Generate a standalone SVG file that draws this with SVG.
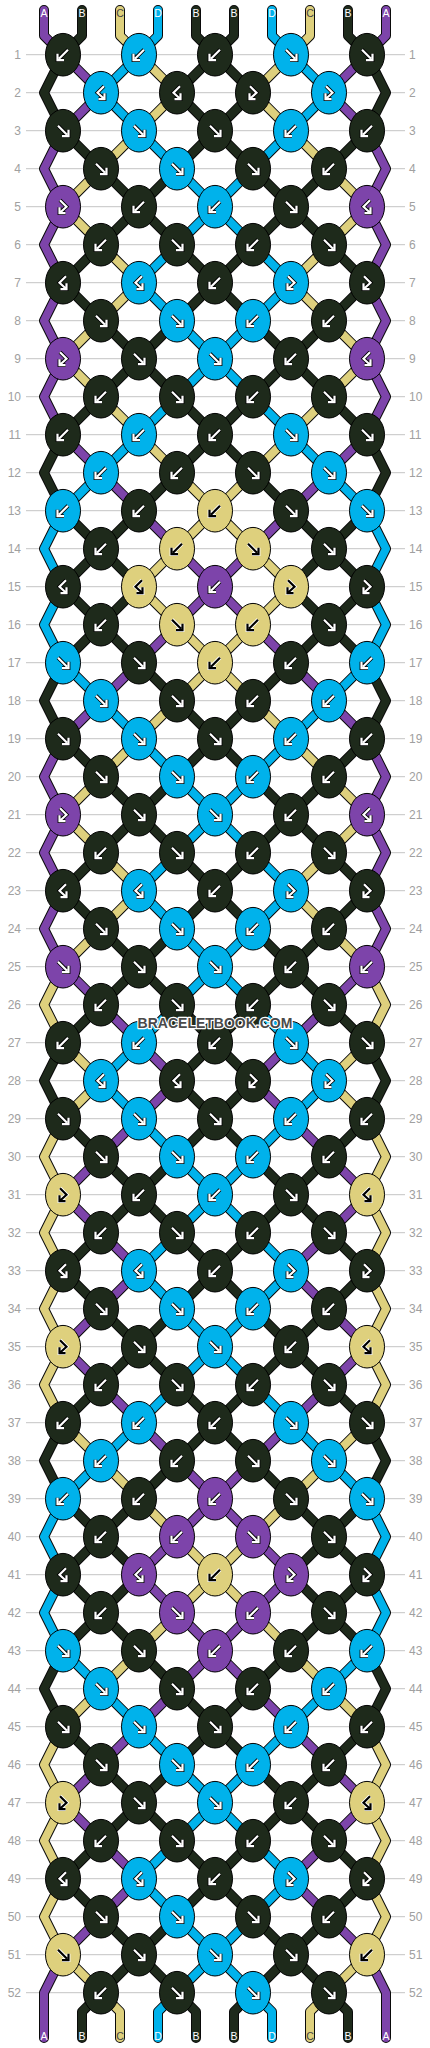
<svg xmlns="http://www.w3.org/2000/svg" xmlns:xlink="http://www.w3.org/1999/xlink" width="430" height="2048" viewBox="0 0 430 2048">
<style>
.grid{stroke:#c4c4c4;stroke-width:1;fill:none}
.num{font-family:"Liberation Sans",Arial,sans-serif;font-size:12px;fill:#a0a0a0}
.numr{text-anchor:start}
.numl{text-anchor:end}
.lab{font-family:"Liberation Sans",Arial,sans-serif;font-size:10.5px;text-anchor:middle;fill:#fff}
.labc{fill:#444}
polyline{fill:none;stroke-linejoin:round;stroke-linecap:round}
.ol use{stroke:#0a0a0a;stroke-width:10}
.cP{stroke:#7d44aa;stroke-width:8}
.cK{stroke:#1e2a1b;stroke-width:8}
.cY{stroke:#ded07d;stroke-width:8}
.cL{stroke:#00b2eb;stroke-width:8}
.eK{fill:#1e2a1b;stroke:#000;stroke-width:1}
.eL{fill:#00b2eb;stroke:#000;stroke-width:1}
.eP{fill:#7d44aa;stroke:#000;stroke-width:1}
.eY{fill:#ded07d;stroke:#000;stroke-width:1}
.au{stroke:#000;stroke-width:3.8}
.aw{stroke:#fff;stroke-width:2.2}
.bu{stroke:#fff;stroke-width:3.8}
.bw{stroke:#000;stroke-width:2.2}
.wm{font-family:"Liberation Sans",Arial,sans-serif;font-weight:bold;font-size:14px;text-anchor:middle;fill:#4a4a4a;stroke:#fff;stroke-width:2.5;paint-order:stroke;stroke-linejoin:round}
</style>
<defs>
<path id="pF" d="M-5,-5L4,4M5.5,-1V5.5H-1" fill="none" stroke-linejoin="miter"/>
<path id="pB" d="M5,-5L-4,4M-5.5,-1V5.5H1" fill="none" stroke-linejoin="miter"/>
<path id="pFB" d="M-3,-6.5L3.5,0L-2.5,5.5M-3.5,0.5V6.5H2.5" fill="none" stroke-linejoin="miter"/>
<path id="pBF" d="M3,-6.5L-3.5,0L2.5,5.5M3.5,0.5V6.5H-2.5" fill="none" stroke-linejoin="miter"/>
<g id="wF"><use href="#pF" class="au"/><use href="#pF" class="aw"/></g>
<g id="wB"><use href="#pB" class="au"/><use href="#pB" class="aw"/></g>
<g id="wFB"><use href="#pFB" class="au"/><use href="#pFB" class="aw"/></g>
<g id="wBF"><use href="#pBF" class="au"/><use href="#pBF" class="aw"/></g>
<g id="bF"><use href="#pF" class="bu"/><use href="#pF" class="bw"/></g>
<g id="bB"><use href="#pB" class="bu"/><use href="#pB" class="bw"/></g>
<g id="bFB"><use href="#pFB" class="bu"/><use href="#pFB" class="bw"/></g>
<g id="bBF"><use href="#pBF" class="bu"/><use href="#pBF" class="bw"/></g>
<g id="KF"><ellipse class="eK" rx="17.5" ry="21.3"/><use href="#wF"/></g>
<g id="KB"><ellipse class="eK" rx="17.5" ry="21.3"/><use href="#wB"/></g>
<g id="KFB"><ellipse class="eK" rx="17.5" ry="21.3"/><use href="#wFB"/></g>
<g id="KBF"><ellipse class="eK" rx="17.5" ry="21.3"/><use href="#wBF"/></g>
<g id="LF"><ellipse class="eL" rx="17.5" ry="21.3"/><use href="#wF"/></g>
<g id="LB"><ellipse class="eL" rx="17.5" ry="21.3"/><use href="#wB"/></g>
<g id="LFB"><ellipse class="eL" rx="17.5" ry="21.3"/><use href="#wFB"/></g>
<g id="LBF"><ellipse class="eL" rx="17.5" ry="21.3"/><use href="#wBF"/></g>
<g id="PF"><ellipse class="eP" rx="17.5" ry="21.3"/><use href="#wF"/></g>
<g id="PB"><ellipse class="eP" rx="17.5" ry="21.3"/><use href="#wB"/></g>
<g id="PFB"><ellipse class="eP" rx="17.5" ry="21.3"/><use href="#wFB"/></g>
<g id="PBF"><ellipse class="eP" rx="17.5" ry="21.3"/><use href="#wBF"/></g>
<g id="YF"><ellipse class="eY" rx="17.5" ry="21.3"/><use href="#bF"/></g>
<g id="YB"><ellipse class="eY" rx="17.5" ry="21.3"/><use href="#bB"/></g>
<g id="YFB"><ellipse class="eY" rx="17.5" ry="21.3"/><use href="#bFB"/></g>
<g id="YBF"><ellipse class="eY" rx="17.5" ry="21.3"/><use href="#bBF"/></g>
<polyline id="t1" points="44,-6.7 44,19 63,38 101,76 63,114 44,152 63,190 44,228 63,266 44,304 63,342 44,380 63,418 101,456 139,494 177,532 215,570 253,608 291,646 329,684 367,722 386,760 367,798 386,836 367,874 386,912 367,950 329,988 291,1026 253,1064 291,1102 329,1140 367,1178 329,1216 291,1254 329,1292 367,1330 329,1368 291,1406 253,1444 215,1482 177,1520 139,1558 177,1596 215,1634 253,1672 291,1710 329,1748 367,1786 329,1824 291,1862 329,1900 367,1938 386,1976 386,2021.3"/>
<polyline id="t2" points="82,-6.7 82,19 63,38 44,76 63,114 101,152 139,190 177,228 215,266 253,304 291,342 329,380 367,418 386,456 367,494 329,532 291,570 329,608 367,646 386,684 367,722 329,760 291,798 253,836 215,874 177,912 139,950 101,988 63,1026 44,1064 63,1102 101,1140 139,1178 177,1216 215,1254 253,1292 291,1330 329,1368 367,1406 386,1444 367,1482 329,1520 291,1558 329,1596 367,1634 386,1672 367,1710 329,1748 291,1786 253,1824 215,1862 177,1900 139,1938 101,1976 82,1995 82,2021.3"/>
<polyline id="t3" points="120,-6.7 120,19 139,38 177,76 139,114 101,152 63,190 101,228 139,266 101,304 63,342 101,380 139,418 177,456 215,494 253,532 291,570 253,608 215,646 177,684 139,722 101,760 63,798 101,836 139,874 101,912 63,950 44,988 63,1026 101,1064 63,1102 44,1140 63,1178 44,1216 63,1254 44,1292 63,1330 44,1368 63,1406 101,1444 139,1482 177,1520 215,1558 253,1596 291,1634 329,1672 367,1710 386,1748 367,1786 386,1824 367,1862 386,1900 367,1938 329,1976 310,1995 310,2021.3"/>
<polyline id="t4" points="158,-6.7 158,19 139,38 101,76 139,114 177,152 215,190 253,228 291,266 253,304 215,342 177,380 139,418 101,456 63,494 44,532 63,570 44,608 63,646 101,684 139,722 177,760 215,798 253,836 291,874 253,912 215,950 177,988 139,1026 101,1064 139,1102 177,1140 215,1178 253,1216 291,1254 253,1292 215,1330 177,1368 139,1406 101,1444 63,1482 44,1520 63,1558 44,1596 63,1634 101,1672 139,1710 177,1748 215,1786 253,1824 291,1862 253,1900 215,1938 177,1976 158,1995 158,2021.3"/>
<polyline id="t5" points="196,-6.7 196,19 215,38 253,76 215,114 177,152 139,190 101,228 63,266 101,304 139,342 177,380 215,418 253,456 291,494 329,532 367,570 329,608 291,646 253,684 215,722 177,760 139,798 101,836 63,874 101,912 139,950 177,988 215,1026 253,1064 215,1102 177,1140 139,1178 101,1216 63,1254 101,1292 139,1330 177,1368 215,1406 253,1444 291,1482 329,1520 367,1558 329,1596 291,1634 253,1672 215,1710 177,1748 139,1786 101,1824 63,1862 101,1900 139,1938 177,1976 196,1995 196,2021.3"/>
</defs>
<rect width="430" height="2048" fill="#fff"/>
<g transform="translate(0,16.7)">
<path class="grid" d="M26,38H405M26,76H405M26,114H405M26,152H405M26,190H405M26,228H405M26,266H405M26,304H405M26,342H405M26,380H405M26,418H405M26,456H405M26,494H405M26,532H405M26,570H405M26,608H405M26,646H405M26,684H405M26,722H405M26,760H405M26,798H405M26,836H405M26,874H405M26,912H405M26,950H405M26,988H405M26,1026H405M26,1064H405M26,1102H405M26,1140H405M26,1178H405M26,1216H405M26,1254H405M26,1292H405M26,1330H405M26,1368H405M26,1406H405M26,1444H405M26,1482H405M26,1520H405M26,1558H405M26,1596H405M26,1634H405M26,1672H405M26,1710H405M26,1748H405M26,1786H405M26,1824H405M26,1862H405M26,1900H405M26,1938H405M26,1976H405"/>
<g id="rownumbers" class="num">
<g class="numl"><text x="21" y="42.3">1</text><text x="21" y="80.3">2</text><text x="21" y="118.3">3</text><text x="21" y="156.3">4</text><text x="21" y="194.3">5</text><text x="21" y="232.3">6</text><text x="21" y="270.3">7</text><text x="21" y="308.3">8</text><text x="21" y="346.3">9</text><text x="21" y="384.3">10</text><text x="21" y="422.3">11</text><text x="21" y="460.3">12</text><text x="21" y="498.3">13</text><text x="21" y="536.3">14</text><text x="21" y="574.3">15</text><text x="21" y="612.3">16</text><text x="21" y="650.3">17</text><text x="21" y="688.3">18</text><text x="21" y="726.3">19</text><text x="21" y="764.3">20</text><text x="21" y="802.3">21</text><text x="21" y="840.3">22</text><text x="21" y="878.3">23</text><text x="21" y="916.3">24</text><text x="21" y="954.3">25</text><text x="21" y="992.3">26</text><text x="21" y="1030.3">27</text><text x="21" y="1068.3">28</text><text x="21" y="1106.3">29</text><text x="21" y="1144.3">30</text><text x="21" y="1182.3">31</text><text x="21" y="1220.3">32</text><text x="21" y="1258.3">33</text><text x="21" y="1296.3">34</text><text x="21" y="1334.3">35</text><text x="21" y="1372.3">36</text><text x="21" y="1410.3">37</text><text x="21" y="1448.3">38</text><text x="21" y="1486.3">39</text><text x="21" y="1524.3">40</text><text x="21" y="1562.3">41</text><text x="21" y="1600.3">42</text><text x="21" y="1638.3">43</text><text x="21" y="1676.3">44</text><text x="21" y="1714.3">45</text><text x="21" y="1752.3">46</text><text x="21" y="1790.3">47</text><text x="21" y="1828.3">48</text><text x="21" y="1866.3">49</text><text x="21" y="1904.3">50</text><text x="21" y="1942.3">51</text><text x="21" y="1980.3">52</text></g>
<g class="numr"><text x="409" y="42.3">1</text><text x="409" y="80.3">2</text><text x="409" y="118.3">3</text><text x="409" y="156.3">4</text><text x="409" y="194.3">5</text><text x="409" y="232.3">6</text><text x="409" y="270.3">7</text><text x="409" y="308.3">8</text><text x="409" y="346.3">9</text><text x="409" y="384.3">10</text><text x="409" y="422.3">11</text><text x="409" y="460.3">12</text><text x="409" y="498.3">13</text><text x="409" y="536.3">14</text><text x="409" y="574.3">15</text><text x="409" y="612.3">16</text><text x="409" y="650.3">17</text><text x="409" y="688.3">18</text><text x="409" y="726.3">19</text><text x="409" y="764.3">20</text><text x="409" y="802.3">21</text><text x="409" y="840.3">22</text><text x="409" y="878.3">23</text><text x="409" y="916.3">24</text><text x="409" y="954.3">25</text><text x="409" y="992.3">26</text><text x="409" y="1030.3">27</text><text x="409" y="1068.3">28</text><text x="409" y="1106.3">29</text><text x="409" y="1144.3">30</text><text x="409" y="1182.3">31</text><text x="409" y="1220.3">32</text><text x="409" y="1258.3">33</text><text x="409" y="1296.3">34</text><text x="409" y="1334.3">35</text><text x="409" y="1372.3">36</text><text x="409" y="1410.3">37</text><text x="409" y="1448.3">38</text><text x="409" y="1486.3">39</text><text x="409" y="1524.3">40</text><text x="409" y="1562.3">41</text><text x="409" y="1600.3">42</text><text x="409" y="1638.3">43</text><text x="409" y="1676.3">44</text><text x="409" y="1714.3">45</text><text x="409" y="1752.3">46</text><text x="409" y="1790.3">47</text><text x="409" y="1828.3">48</text><text x="409" y="1866.3">49</text><text x="409" y="1904.3">50</text><text x="409" y="1942.3">51</text><text x="409" y="1980.3">52</text></g>
</g>
<g id="connectors">
<g class="ol">
<use href="#t1"/><use href="#t2"/><use href="#t3"/><use href="#t4"/><use href="#t5"/>
<use href="#t1" transform="matrix(-1 0 0 1 430 0)"/><use href="#t2" transform="matrix(-1 0 0 1 430 0)"/><use href="#t3" transform="matrix(-1 0 0 1 430 0)"/><use href="#t4" transform="matrix(-1 0 0 1 430 0)"/><use href="#t5" transform="matrix(-1 0 0 1 430 0)"/>
</g>
<g class="cl">
<use href="#t1" class="cP"/><use href="#t2" class="cK"/><use href="#t3" class="cY"/><use href="#t4" class="cL"/><use href="#t5" class="cK"/>
<use href="#t1" class="cP" transform="matrix(-1 0 0 1 430 0)"/><use href="#t2" class="cK" transform="matrix(-1 0 0 1 430 0)"/><use href="#t3" class="cY" transform="matrix(-1 0 0 1 430 0)"/><use href="#t4" class="cL" transform="matrix(-1 0 0 1 430 0)"/><use href="#t5" class="cK" transform="matrix(-1 0 0 1 430 0)"/>
</g>
</g>
<g id="knots">
<g id="r1k1"><use href="#KB" x="63" y="38"/></g><g id="r1k2"><use href="#LB" x="139" y="38"/></g><g id="r1k3"><use href="#KB" x="215" y="38"/></g><g id="r1k4"><use href="#LF" x="291" y="38"/></g><g id="r1k5"><use href="#KF" x="367" y="38"/></g>
<g id="r2k1"><use href="#LBF" x="101" y="76"/></g><g id="r2k2"><use href="#KBF" x="177" y="76"/></g><g id="r2k3"><use href="#KFB" x="253" y="76"/></g><g id="r2k4"><use href="#LFB" x="329" y="76"/></g>
<g id="r3k1"><use href="#KF" x="63" y="114"/></g><g id="r3k2"><use href="#LF" x="139" y="114"/></g><g id="r3k3"><use href="#KF" x="215" y="114"/></g><g id="r3k4"><use href="#LB" x="291" y="114"/></g><g id="r3k5"><use href="#KB" x="367" y="114"/></g>
<g id="r4k1"><use href="#KF" x="101" y="152"/></g><g id="r4k2"><use href="#LF" x="177" y="152"/></g><g id="r4k3"><use href="#KF" x="253" y="152"/></g><g id="r4k4"><use href="#KB" x="329" y="152"/></g>
<g id="r5k1"><use href="#PFB" x="63" y="190"/></g><g id="r5k2"><use href="#KB" x="139" y="190"/></g><g id="r5k3"><use href="#LB" x="215" y="190"/></g><g id="r5k4"><use href="#KF" x="291" y="190"/></g><g id="r5k5"><use href="#PBF" x="367" y="190"/></g>
<g id="r6k1"><use href="#KB" x="101" y="228"/></g><g id="r6k2"><use href="#KF" x="177" y="228"/></g><g id="r6k3"><use href="#KB" x="253" y="228"/></g><g id="r6k4"><use href="#KF" x="329" y="228"/></g>
<g id="r7k1"><use href="#KBF" x="63" y="266"/></g><g id="r7k2"><use href="#LBF" x="139" y="266"/></g><g id="r7k3"><use href="#KB" x="215" y="266"/></g><g id="r7k4"><use href="#LFB" x="291" y="266"/></g><g id="r7k5"><use href="#KFB" x="367" y="266"/></g>
<g id="r8k1"><use href="#KF" x="101" y="304"/></g><g id="r8k2"><use href="#LF" x="177" y="304"/></g><g id="r8k3"><use href="#LB" x="253" y="304"/></g><g id="r8k4"><use href="#KB" x="329" y="304"/></g>
<g id="r9k1"><use href="#PFB" x="63" y="342"/></g><g id="r9k2"><use href="#KF" x="139" y="342"/></g><g id="r9k3"><use href="#LF" x="215" y="342"/></g><g id="r9k4"><use href="#KB" x="291" y="342"/></g><g id="r9k5"><use href="#PBF" x="367" y="342"/></g>
<g id="r10k1"><use href="#KB" x="101" y="380"/></g><g id="r10k2"><use href="#KF" x="177" y="380"/></g><g id="r10k3"><use href="#KB" x="253" y="380"/></g><g id="r10k4"><use href="#KF" x="329" y="380"/></g>
<g id="r11k1"><use href="#KB" x="63" y="418"/></g><g id="r11k2"><use href="#LB" x="139" y="418"/></g><g id="r11k3"><use href="#KB" x="215" y="418"/></g><g id="r11k4"><use href="#LF" x="291" y="418"/></g><g id="r11k5"><use href="#KF" x="367" y="418"/></g>
<g id="r12k1"><use href="#LB" x="101" y="456"/></g><g id="r12k2"><use href="#KB" x="177" y="456"/></g><g id="r12k3"><use href="#KF" x="253" y="456"/></g><g id="r12k4"><use href="#LF" x="329" y="456"/></g>
<g id="r13k1"><use href="#LB" x="63" y="494"/></g><g id="r13k2"><use href="#KB" x="139" y="494"/></g><g id="r13k3"><use href="#YB" x="215" y="494"/></g><g id="r13k4"><use href="#KF" x="291" y="494"/></g><g id="r13k5"><use href="#LF" x="367" y="494"/></g>
<g id="r14k1"><use href="#KB" x="101" y="532"/></g><g id="r14k2"><use href="#YB" x="177" y="532"/></g><g id="r14k3"><use href="#YF" x="253" y="532"/></g><g id="r14k4"><use href="#KF" x="329" y="532"/></g>
<g id="r15k1"><use href="#KBF" x="63" y="570"/></g><g id="r15k2"><use href="#YBF" x="139" y="570"/></g><g id="r15k3"><use href="#PB" x="215" y="570"/></g><g id="r15k4"><use href="#YFB" x="291" y="570"/></g><g id="r15k5"><use href="#KFB" x="367" y="570"/></g>
<g id="r16k1"><use href="#KB" x="101" y="608"/></g><g id="r16k2"><use href="#YF" x="177" y="608"/></g><g id="r16k3"><use href="#YB" x="253" y="608"/></g><g id="r16k4"><use href="#KF" x="329" y="608"/></g>
<g id="r17k1"><use href="#LF" x="63" y="646"/></g><g id="r17k2"><use href="#KF" x="139" y="646"/></g><g id="r17k3"><use href="#YB" x="215" y="646"/></g><g id="r17k4"><use href="#KB" x="291" y="646"/></g><g id="r17k5"><use href="#LB" x="367" y="646"/></g>
<g id="r18k1"><use href="#LF" x="101" y="684"/></g><g id="r18k2"><use href="#KF" x="177" y="684"/></g><g id="r18k3"><use href="#KB" x="253" y="684"/></g><g id="r18k4"><use href="#LB" x="329" y="684"/></g>
<g id="r19k1"><use href="#KF" x="63" y="722"/></g><g id="r19k2"><use href="#LF" x="139" y="722"/></g><g id="r19k3"><use href="#KF" x="215" y="722"/></g><g id="r19k4"><use href="#LB" x="291" y="722"/></g><g id="r19k5"><use href="#KB" x="367" y="722"/></g>
<g id="r20k1"><use href="#KF" x="101" y="760"/></g><g id="r20k2"><use href="#LF" x="177" y="760"/></g><g id="r20k3"><use href="#LB" x="253" y="760"/></g><g id="r20k4"><use href="#KB" x="329" y="760"/></g>
<g id="r21k1"><use href="#PFB" x="63" y="798"/></g><g id="r21k2"><use href="#KF" x="139" y="798"/></g><g id="r21k3"><use href="#LF" x="215" y="798"/></g><g id="r21k4"><use href="#KB" x="291" y="798"/></g><g id="r21k5"><use href="#PBF" x="367" y="798"/></g>
<g id="r22k1"><use href="#KB" x="101" y="836"/></g><g id="r22k2"><use href="#KF" x="177" y="836"/></g><g id="r22k3"><use href="#KB" x="253" y="836"/></g><g id="r22k4"><use href="#KF" x="329" y="836"/></g>
<g id="r23k1"><use href="#KBF" x="63" y="874"/></g><g id="r23k2"><use href="#LBF" x="139" y="874"/></g><g id="r23k3"><use href="#KB" x="215" y="874"/></g><g id="r23k4"><use href="#LFB" x="291" y="874"/></g><g id="r23k5"><use href="#KFB" x="367" y="874"/></g>
<g id="r24k1"><use href="#KF" x="101" y="912"/></g><g id="r24k2"><use href="#LF" x="177" y="912"/></g><g id="r24k3"><use href="#LB" x="253" y="912"/></g><g id="r24k4"><use href="#KB" x="329" y="912"/></g>
<g id="r25k1"><use href="#PF" x="63" y="950"/></g><g id="r25k2"><use href="#KF" x="139" y="950"/></g><g id="r25k3"><use href="#LF" x="215" y="950"/></g><g id="r25k4"><use href="#KB" x="291" y="950"/></g><g id="r25k5"><use href="#PB" x="367" y="950"/></g>
<g id="r26k1"><use href="#KB" x="101" y="988"/></g><g id="r26k2"><use href="#KF" x="177" y="988"/></g><g id="r26k3"><use href="#KB" x="253" y="988"/></g><g id="r26k4"><use href="#KF" x="329" y="988"/></g>
<g id="r27k1"><use href="#KB" x="63" y="1026"/></g><g id="r27k2"><use href="#LB" x="139" y="1026"/></g><g id="r27k3"><use href="#KB" x="215" y="1026"/></g><g id="r27k4"><use href="#LF" x="291" y="1026"/></g><g id="r27k5"><use href="#KF" x="367" y="1026"/></g>
<g id="r28k1"><use href="#LBF" x="101" y="1064"/></g><g id="r28k2"><use href="#KBF" x="177" y="1064"/></g><g id="r28k3"><use href="#KFB" x="253" y="1064"/></g><g id="r28k4"><use href="#LFB" x="329" y="1064"/></g>
<g id="r29k1"><use href="#KF" x="63" y="1102"/></g><g id="r29k2"><use href="#LF" x="139" y="1102"/></g><g id="r29k3"><use href="#KF" x="215" y="1102"/></g><g id="r29k4"><use href="#LB" x="291" y="1102"/></g><g id="r29k5"><use href="#KB" x="367" y="1102"/></g>
<g id="r30k1"><use href="#KF" x="101" y="1140"/></g><g id="r30k2"><use href="#LF" x="177" y="1140"/></g><g id="r30k3"><use href="#LB" x="253" y="1140"/></g><g id="r30k4"><use href="#KB" x="329" y="1140"/></g>
<g id="r31k1"><use href="#YFB" x="63" y="1178"/></g><g id="r31k2"><use href="#KB" x="139" y="1178"/></g><g id="r31k3"><use href="#LB" x="215" y="1178"/></g><g id="r31k4"><use href="#KF" x="291" y="1178"/></g><g id="r31k5"><use href="#YBF" x="367" y="1178"/></g>
<g id="r32k1"><use href="#KB" x="101" y="1216"/></g><g id="r32k2"><use href="#KF" x="177" y="1216"/></g><g id="r32k3"><use href="#KB" x="253" y="1216"/></g><g id="r32k4"><use href="#KF" x="329" y="1216"/></g>
<g id="r33k1"><use href="#KBF" x="63" y="1254"/></g><g id="r33k2"><use href="#LBF" x="139" y="1254"/></g><g id="r33k3"><use href="#KB" x="215" y="1254"/></g><g id="r33k4"><use href="#LFB" x="291" y="1254"/></g><g id="r33k5"><use href="#KFB" x="367" y="1254"/></g>
<g id="r34k1"><use href="#KF" x="101" y="1292"/></g><g id="r34k2"><use href="#LF" x="177" y="1292"/></g><g id="r34k3"><use href="#LB" x="253" y="1292"/></g><g id="r34k4"><use href="#KB" x="329" y="1292"/></g>
<g id="r35k1"><use href="#YFB" x="63" y="1330"/></g><g id="r35k2"><use href="#KF" x="139" y="1330"/></g><g id="r35k3"><use href="#LF" x="215" y="1330"/></g><g id="r35k4"><use href="#KB" x="291" y="1330"/></g><g id="r35k5"><use href="#YBF" x="367" y="1330"/></g>
<g id="r36k1"><use href="#KB" x="101" y="1368"/></g><g id="r36k2"><use href="#KF" x="177" y="1368"/></g><g id="r36k3"><use href="#KB" x="253" y="1368"/></g><g id="r36k4"><use href="#KF" x="329" y="1368"/></g>
<g id="r37k1"><use href="#KB" x="63" y="1406"/></g><g id="r37k2"><use href="#LB" x="139" y="1406"/></g><g id="r37k3"><use href="#KB" x="215" y="1406"/></g><g id="r37k4"><use href="#LF" x="291" y="1406"/></g><g id="r37k5"><use href="#KF" x="367" y="1406"/></g>
<g id="r38k1"><use href="#LB" x="101" y="1444"/></g><g id="r38k2"><use href="#KB" x="177" y="1444"/></g><g id="r38k3"><use href="#KF" x="253" y="1444"/></g><g id="r38k4"><use href="#LF" x="329" y="1444"/></g>
<g id="r39k1"><use href="#LB" x="63" y="1482"/></g><g id="r39k2"><use href="#KB" x="139" y="1482"/></g><g id="r39k3"><use href="#PB" x="215" y="1482"/></g><g id="r39k4"><use href="#KF" x="291" y="1482"/></g><g id="r39k5"><use href="#LF" x="367" y="1482"/></g>
<g id="r40k1"><use href="#KB" x="101" y="1520"/></g><g id="r40k2"><use href="#PB" x="177" y="1520"/></g><g id="r40k3"><use href="#PF" x="253" y="1520"/></g><g id="r40k4"><use href="#KF" x="329" y="1520"/></g>
<g id="r41k1"><use href="#KBF" x="63" y="1558"/></g><g id="r41k2"><use href="#PBF" x="139" y="1558"/></g><g id="r41k3"><use href="#YB" x="215" y="1558"/></g><g id="r41k4"><use href="#PFB" x="291" y="1558"/></g><g id="r41k5"><use href="#KFB" x="367" y="1558"/></g>
<g id="r42k1"><use href="#KB" x="101" y="1596"/></g><g id="r42k2"><use href="#PF" x="177" y="1596"/></g><g id="r42k3"><use href="#PB" x="253" y="1596"/></g><g id="r42k4"><use href="#KF" x="329" y="1596"/></g>
<g id="r43k1"><use href="#LF" x="63" y="1634"/></g><g id="r43k2"><use href="#KF" x="139" y="1634"/></g><g id="r43k3"><use href="#PB" x="215" y="1634"/></g><g id="r43k4"><use href="#KB" x="291" y="1634"/></g><g id="r43k5"><use href="#LB" x="367" y="1634"/></g>
<g id="r44k1"><use href="#LF" x="101" y="1672"/></g><g id="r44k2"><use href="#KF" x="177" y="1672"/></g><g id="r44k3"><use href="#KB" x="253" y="1672"/></g><g id="r44k4"><use href="#LB" x="329" y="1672"/></g>
<g id="r45k1"><use href="#KF" x="63" y="1710"/></g><g id="r45k2"><use href="#LF" x="139" y="1710"/></g><g id="r45k3"><use href="#KF" x="215" y="1710"/></g><g id="r45k4"><use href="#LB" x="291" y="1710"/></g><g id="r45k5"><use href="#KB" x="367" y="1710"/></g>
<g id="r46k1"><use href="#KF" x="101" y="1748"/></g><g id="r46k2"><use href="#LF" x="177" y="1748"/></g><g id="r46k3"><use href="#LB" x="253" y="1748"/></g><g id="r46k4"><use href="#KB" x="329" y="1748"/></g>
<g id="r47k1"><use href="#YFB" x="63" y="1786"/></g><g id="r47k2"><use href="#KF" x="139" y="1786"/></g><g id="r47k3"><use href="#LF" x="215" y="1786"/></g><g id="r47k4"><use href="#KB" x="291" y="1786"/></g><g id="r47k5"><use href="#YBF" x="367" y="1786"/></g>
<g id="r48k1"><use href="#KB" x="101" y="1824"/></g><g id="r48k2"><use href="#KF" x="177" y="1824"/></g><g id="r48k3"><use href="#KB" x="253" y="1824"/></g><g id="r48k4"><use href="#KF" x="329" y="1824"/></g>
<g id="r49k1"><use href="#KBF" x="63" y="1862"/></g><g id="r49k2"><use href="#LBF" x="139" y="1862"/></g><g id="r49k3"><use href="#KB" x="215" y="1862"/></g><g id="r49k4"><use href="#LFB" x="291" y="1862"/></g><g id="r49k5"><use href="#KFB" x="367" y="1862"/></g>
<g id="r50k1"><use href="#KF" x="101" y="1900"/></g><g id="r50k2"><use href="#LF" x="177" y="1900"/></g><g id="r50k3"><use href="#KF" x="253" y="1900"/></g><g id="r50k4"><use href="#KB" x="329" y="1900"/></g>
<g id="r51k1"><use href="#YF" x="63" y="1938"/></g><g id="r51k2"><use href="#KF" x="139" y="1938"/></g><g id="r51k3"><use href="#LF" x="215" y="1938"/></g><g id="r51k4"><use href="#KF" x="291" y="1938"/></g><g id="r51k5"><use href="#YB" x="367" y="1938"/></g>
<g id="r52k1"><use href="#KB" x="101" y="1976"/></g><g id="r52k2"><use href="#KF" x="177" y="1976"/></g><g id="r52k3"><use href="#LF" x="253" y="1976"/></g><g id="r52k4"><use href="#KF" x="329" y="1976"/></g>
</g>
</g>
<g id="stringlabels" class="lab">
<text x="44" y="16.5">A</text><text x="82" y="16.5">B</text><text x="120" y="16.5" class="labc">C</text><text x="158" y="16.5">D</text><text x="196" y="16.5">B</text><text x="234" y="16.5">B</text><text x="272" y="16.5">D</text><text x="310" y="16.5" class="labc">C</text><text x="348" y="16.5">B</text><text x="386" y="16.5">A</text>
<text x="44" y="2040">A</text><text x="82" y="2040">B</text><text x="120" y="2040" class="labc">C</text><text x="158" y="2040">D</text><text x="196" y="2040">B</text><text x="234" y="2040">B</text><text x="272" y="2040">D</text><text x="310" y="2040" class="labc">C</text><text x="348" y="2040">B</text><text x="386" y="2040">A</text>
</g>
<text class="wm" x="215" y="1028">BRACELETBOOK.COM</text>
</svg>
